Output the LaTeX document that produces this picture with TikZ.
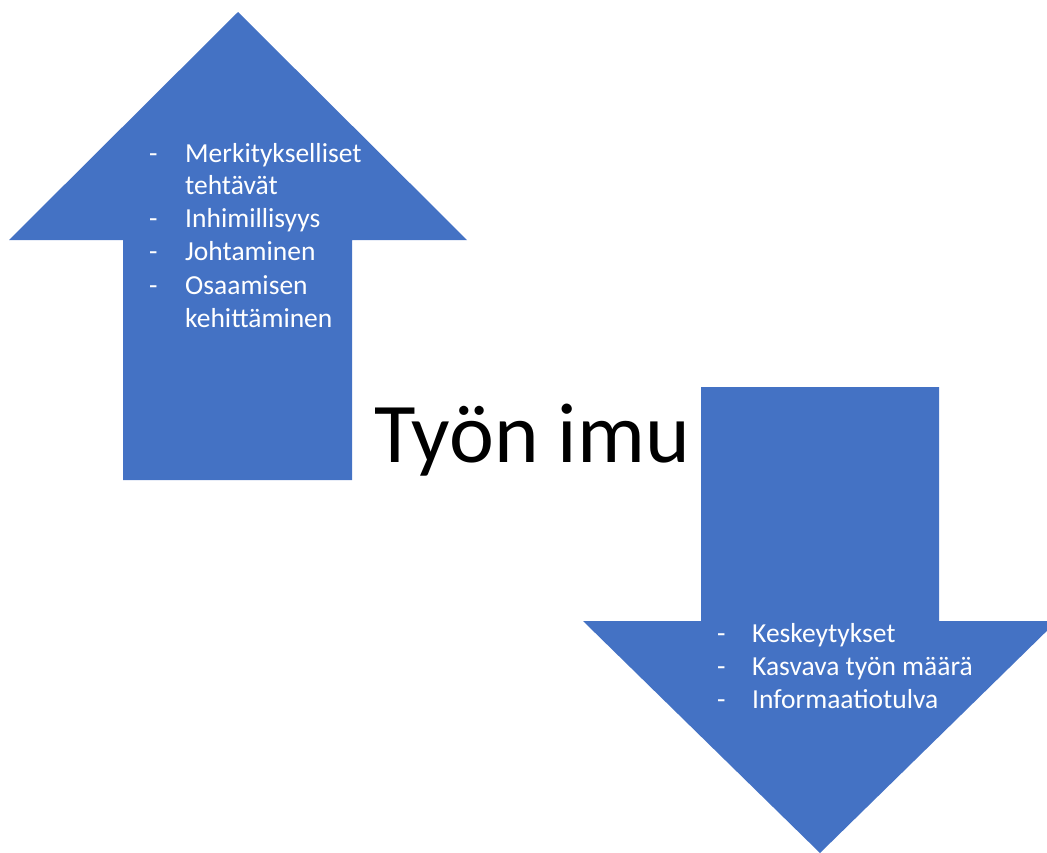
\documentclass[tikz,border=0pt]{standalone}
\usepackage{fontspec}
\setmainfont{Carlito}
\definecolor{officeblue}{HTML}{4472C4}
\begin{document}
\begin{tikzpicture}[x=1pt,y=-1pt,
  item/.style={text=white,font=\fontsize{27.5}{33}\selectfont,anchor=base west,inner sep=0pt},
  arrowshape/.style={fill=officeblue}]
\useasboundingbox (0,0) rectangle (1047,852);
\begin{scope}
\clip (0,0) rectangle (1047,852);
\fill[arrowshape] (238,12) -- (467,240) -- (352,240) -- (352,480) -- (123,480) -- (123,240) -- (9,240) -- cycle;
\fill[arrowshape] (701,387) -- (939,387) -- (939,621) -- (1057,621) -- (820,853) -- (583,621) -- (701,621) -- cycle;
\end{scope}
% up arrow list
\node[item] (d1) at (149,162) {-};
\node[item] (t1) at (185,162) {Merkitykselliset};
\node[item] (t1b) at (185,194) {tehtävät};
\node[item] (d2) at (149,227) {-};
\node[item] (t2) at (185,227) {Inhimillisyys};
\node[item] (d3) at (149,260) {-};
\node[item] (t3) at (185,260) {Johtaminen};
\node[item] (d4) at (149,294) {-};
\node[item] (t4) at (185,294) {Osaamisen};
\node[item] (t4b) at (185,327) {kehittäminen};
% down arrow list
\node[item] (e1) at (717,642) {-};
\node[item] (s1) at (752,642) {Keskeytykset};
\node[item] (e2) at (717,675) {-};
\node[item] (s2) at (752,675) {Kasvava työn määrä};
\node[item] (e3) at (717,708) {-};
\node[item] (s3) at (752,708) {Informaatiotulva};
% title
\node[anchor=base west,inner sep=0pt,font=\fontsize{85}{100}\selectfont] (title) at (374,462) {Työn imu};
\end{tikzpicture}
\end{document}
